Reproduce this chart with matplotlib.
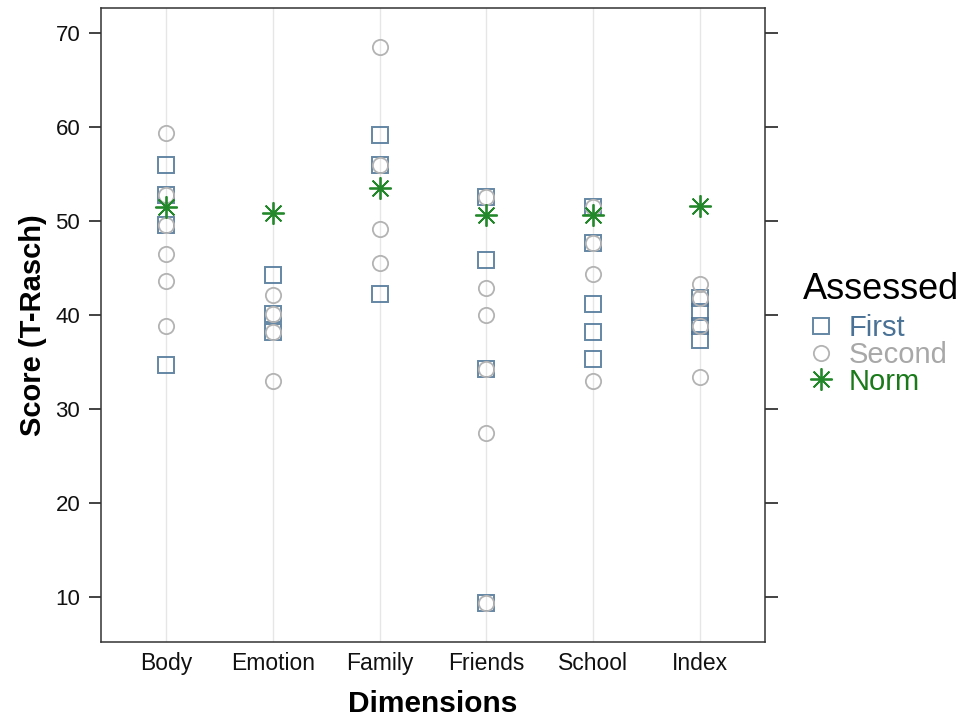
import numpy as np
import matplotlib.pyplot as plt

plt.rcParams['font.family'] = ['Liberation Sans', 'DejaVu Sans']

dimensions = ['Body', 'Emotion', 'Family', 'Friends', 'School', 'Index']

# T-Rasch scores per dimension
first = {
    'Body': [56.0, 52.8, 49.6, 34.7],
    'Emotion': [44.3, 40.1, 38.2],
    'Family': [59.1, 56.0, 42.2],
    'Friends': [52.6, 45.9, 34.2, 9.3],
    'School': [51.5, 47.7, 41.2, 38.2, 35.3],
    'Index': [41.8, 40.3, 38.8, 37.3],
}
second = {
    'Body': [59.4, 52.8, 49.6, 46.5, 43.6, 38.8],
    'Emotion': [42.1, 40.1, 38.2, 33.0],
    'Family': [68.5, 56.0, 49.2, 45.5],
    'Friends': [52.6, 42.9, 40.0, 34.2, 27.4, 9.3],
    'School': [51.5, 47.7, 44.4, 33.0],
    'Index': [43.3, 41.8, 38.8, 33.4],
}
norm = [51.5, 50.8, 53.5, 50.6, 50.6, 51.6]

col_first = '#4a7296'
col_second = '#b3b3b3'
col_norm = '#22882a'

fig = plt.figure(figsize=(9.63, 7.17), dpi=100)
ax = fig.add_axes([0.1049, 0.1046, 0.6895, 0.8842])

xpos = np.arange(len(dimensions))
for x in xpos:
    ax.axvline(x, color='#e6e6e6', lw=1.0, zorder=0)

def stack(d):
    xs, ys = [], []
    for i, name in enumerate(dimensions):
        xs += [i] * len(d[name])
        ys += d[name]
    return xs, ys

fx, fy = stack(first)
sx, sy = stack(second)
ax.plot(fx, fy, ls='none', marker='s', ms=11.5, mfc='none', mec=col_first,
        mew=1.4, alpha=0.85, label='First', zorder=2)
ax.plot(sx, sy, ls='none', marker='o', ms=11, mfc='none', mec=col_second,
        mew=1.3, label='Second', zorder=3)
ax.plot(xpos, norm, ls='none', marker=(8, 2, 0), ms=16, mec=col_norm,
        mew=1.3, label='Norm', zorder=4)

ax.set_xlim(-0.61, 5.61)
ax.set_ylim(5.2, 72.66)
ax.set_xticks(xpos)
ax.set_xticklabels(dimensions)
ax.set_yticks([10, 20, 30, 40, 50, 60, 70])
ax.tick_params(axis='x', length=0, labelsize=16.5, pad=7, colors='#111111')
ax.tick_params(axis='y', which='both', direction='out', length=9, width=1.2,
               labelsize=16, pad=6, right=True, colors='#222222',
               labelcolor='#111111')
for s in ax.spines.values():
    s.set_color('#333333')
    s.set_linewidth(1.1)

ax.set_xlabel('Dimensions', fontsize=21.5, fontweight='bold', labelpad=11)
ax.set_ylabel('Score (T-Rasch)', fontsize=21, fontweight='bold', labelpad=6)

leg = ax.legend(title='Assessed', loc='upper left',
                bbox_to_anchor=(803 / 963, 1 - 272 / 717),
                bbox_transform=fig.transFigure, borderpad=0, borderaxespad=0,
                frameon=False, fontsize=21, title_fontsize=26,
                handletextpad=0.33, labelspacing=-0.04, handlelength=1.25,
                labelcolor=[col_first, '#a8a8a8', '#1a7a1a'])
leg._legend_box.align = 'left'
leg._legend_box.sep = 5

fig.savefig('out.png', dpi=100)
